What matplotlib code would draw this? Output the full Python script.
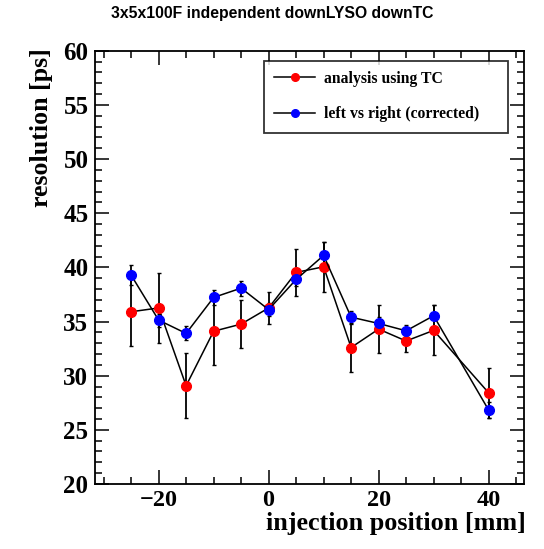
import matplotlib
matplotlib.use("Agg")
import matplotlib.pyplot as plt
from matplotlib.ticker import MultipleLocator
from matplotlib.lines import Line2D

positions = [-25, -20, -15, -10, -5, 0, 5, 10, 15, 20, 25, 30, 40]
tc_res = [35.9, 36.25, 29.07, 34.1, 34.76, 36.25, 39.53, 40.05, 32.6, 34.3, 33.2, 34.18, 28.42]
tc_err = [3.2, 3.2, 3.0, 3.1, 2.25, 1.5, 2.2, 2.3, 2.3, 2.2, 1.0, 2.3, 2.3]
lr_res = [39.28, 35.13, 33.9, 37.22, 38.08, 36.1, 38.88, 41.1, 35.4, 34.82, 34.14, 35.53, 26.83]
lr_err = [0.9, 0.6, 0.65, 0.7, 0.7, 0.6, 0.6, 1.2, 0.6, 0.6, 0.5, 1.0, 0.7]

title = "3x5x100F independent downLYSO downTC"
xlabel = "injection position [mm]"
ylabel = "resolution [ps]"
labels = ["analysis using TC", "left vs right (corrected)"]
colors = ["#ff0000", "#0000ff"]

serif = ["Liberation Serif", "DejaVu Serif"]
plt.rcParams["font.family"] = serif

fig = plt.figure(figsize=(5.44, 5.49), dpi=100)
ax = fig.add_axes([0.1753, 0.1184, 0.7886, 0.7893])

for res, err, col in [(tc_res, tc_err, colors[0]), (lr_res, lr_err, colors[1])]:
    ax.errorbar(positions, res, yerr=err, fmt="-o", color="black", lw=1.1,
                elinewidth=1.3, capsize=1.5, capthick=1.0,
                markerfacecolor=col, markeredgecolor=col, markersize=7)

ax.set_xlim(-31.5, 46.5)
ax.set_ylim(20, 60)
ax.xaxis.set_major_locator(MultipleLocator(20))
ax.xaxis.set_minor_locator(MultipleLocator(5))
ax.yaxis.set_major_locator(MultipleLocator(5))
ax.yaxis.set_minor_locator(MultipleLocator(1))
ax.tick_params(which="both", direction="in", top=True, right=True, width=1.1)
ax.tick_params(which="major", length=10, labelsize=18, pad=5)
ax.tick_params(axis="x", which="major", pad=4)
ax.tick_params(which="minor", length=5)
for s in ax.spines.values():
    s.set_linewidth(1.3)

ax.set_xticks(ax.get_xticks())
ax.set_xticklabels([("\u2212%d" % -v) if v < 0 else "%d" % v for v in ax.get_xticks()])
for t in ax.get_xticklabels():
    t.set_fontweight("bold")
    t.set_fontsize(17.5)
for t in ax.get_yticklabels():
    t.set_fontweight("bold")
    t.set_fontsize(18)
ax.set_xlim(-31.5, 46.5)

fig.text(0.966, (549 - 530) / 549, xlabel, ha="right", va="baseline", fontsize=18.8, fontweight="bold")
fig.text(0.076, 0.912, ylabel, ha="center", va="top", rotation=90, fontsize=18.6, fontweight="bold")
fig.text(0.5, 0.976, title, ha="center", va="center", fontsize=11.3, fontweight="bold",
         family=["Liberation Sans", "DejaVu Sans"])

handles = [Line2D([], [], color="black", lw=1.1, marker="o", markersize=5.5,
                  markerfacecolor=c, markeredgecolor=c) for c in colors]
leg = ax.legend(handles, labels, loc="upper left", bbox_to_anchor=(0.393, 0.813, 0.569, 0.164),
                mode="expand", frameon=True, fancybox=False, borderaxespad=0, handlelength=2.6,
                labelspacing=1.25, borderpad=0.65, handletextpad=0.6,
                prop={"family": serif, "weight": "bold", "size": 11.3})
leg.get_frame().set_edgecolor("black")
leg.get_frame().set_linewidth(1.3)

fig.savefig("out.png", dpi=100)
